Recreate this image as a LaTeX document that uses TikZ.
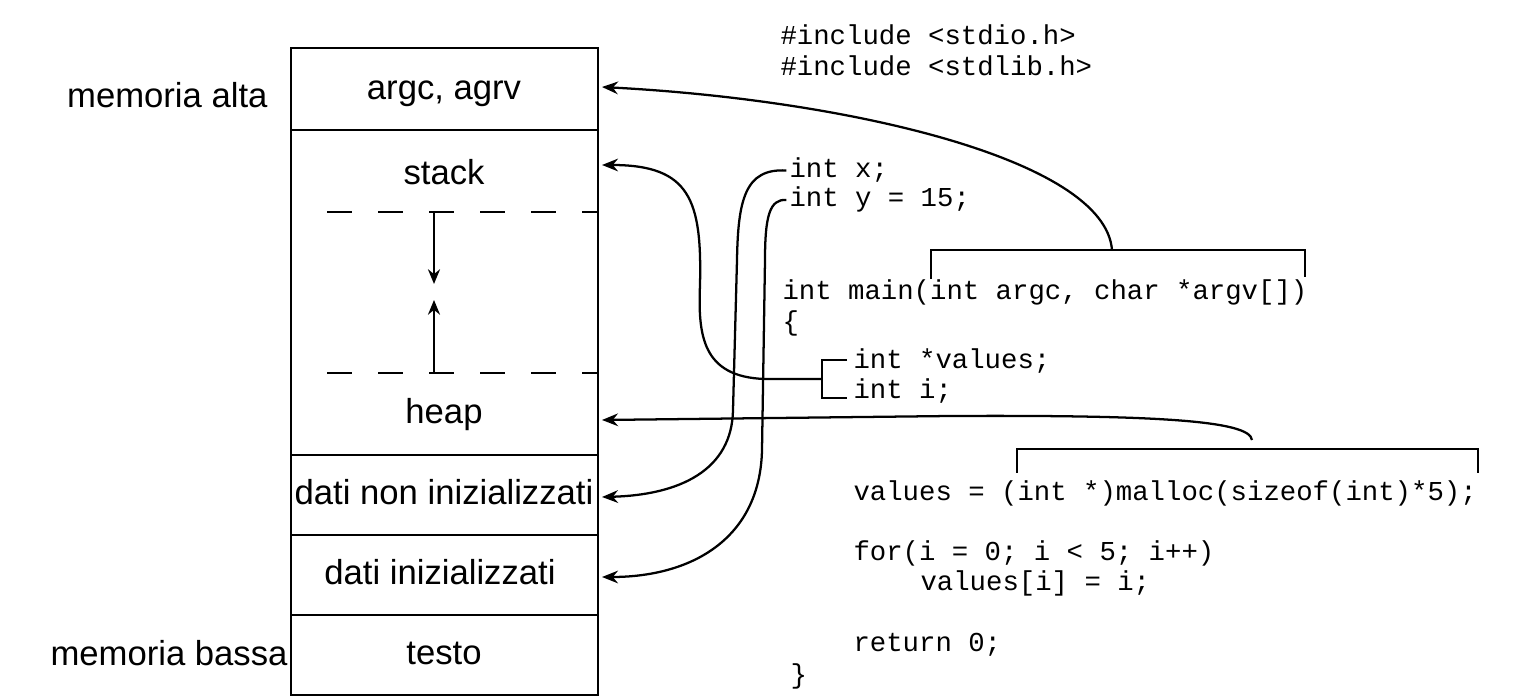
\documentclass[tikz,border=0pt]{standalone}
\usepackage{fontspec}
\setmainfont{Liberation Sans}
\setmonofont{Liberation Mono}
\usetikzlibrary{arrows.meta}
\newcommand\segfont{\fontsize{26}{30}\selectfont}
\newcommand\codefont{\ttfamily\fontsize{20.5}{25}\selectfont}
\tikzset{every picture/.style={line width=0.75pt}}

\begin{document}
\begin{tikzpicture}[x=0.75pt,y=0.75pt,yscale=-1,xscale=1,
  seg/.style={font=\segfont, anchor=base, inner sep=0pt},
  side/.style={font=\segfont, anchor=base east, inner sep=0pt},
  code/.style={font=\codefont, anchor=base west, inner sep=0pt},
  wall/.style={line width=1.9pt},
  freeline/.style={line width=1.9pt, dash pattern=on 18.75pt off 19.5pt},
  brk/.style={line width=1.7pt},
  ptr/.style={line width=1.7pt, -{Stealth[length=12pt,width=9.5pt]}},
  growarrow/.style={line width=1.7pt, -{Stealth[length=11pt,width=9pt]}}]
\useasboundingbox (0,0) rectangle (1536,698);

%Shape: Rectangle [memory]
\draw [wall] (291,48) rectangle (598,695);
%Straight Lines [segments]
\draw [wall] (291,130) -- (598,130);
\draw [wall] (291,455) -- (598,455);
\draw [wall] (291,535) -- (598,535);
\draw [wall] (291,615) -- (598,615);
%Straight Lines [free space]
\draw [freeline] (327,212) -- (598,212);
\draw [freeline] (327,373) -- (598,373);
\draw [growarrow] (434,212) -- (434,284);
\draw [growarrow] (434,373) -- (434,300);

% Text Node
\node [seg] (argc) at (444,100) {argc, agrv};
\node [seg] (stack) at (444,185) {stack};
\node [seg] (heap) at (444,424) {heap};
\node [seg] (bss) at (444,505) {dati non inizializzati};
\node [seg] (data) at (440,585) {dati inizializzati};
\node [seg] (text) at (444,664) {testo};
\node [side] (high) at (268,108) {memoria alta};
\node [side] (low) at (288,665) {memoria bassa};

% Text Node [program]
\node [code] (inc1) at (780,45) {\#include <stdio.h>};
\node [code] (inc2) at (780,76) {\#include <stdlib.h>};
\node [code] (intx) at (789,178) {int x;};
\node [code] (inty) at (789,207) {int y = 15;};
\node [code] (main) at (782,300) {int main(int argc, char *argv[])};
\node [code] (open) at (782,331) {\{};
\node [code] (vals) at (853,369) {int *values;};
\node [code] (inti) at (853,399) {int i;};
\node [code] (alloc) at (853,501) {values = (int *)malloc(sizeof(int)*5);};
\node [code] (loop) at (853,561) {for(i = 0; i < 5; i++)};
\node [code] (assign) at (920,590) {values[i] = i;};
\node [code] (ret) at (853,651) {return 0;};
\node [code] (close) at (790,683) {\}};

%Coordinates [arrow ends]
\coordinate (toargc) at (602,87);
\coordinate (tostack) at (602,165);
\coordinate (toheap) at (602,420);
\coordinate (tobss) at (602,497);
\coordinate (todata) at (602,577);
\coordinate (argvmid) at (1112,250);
\coordinate (locmid) at (822,379);
\coordinate (allocmid) at (1252,440);

%Straight Lines [brackets]
\draw [brk] (931,279) -- (931,250) -- (1305,250) -- (1305,277);
\draw [brk] (1017,473) -- (1017,449) -- (1478,449) -- (1478,473);
\draw [brk] (847,360) -- (822,360) -- (822,398) -- (847,398);

%Curve Lines
\draw [ptr] (argvmid) .. controls (1105,160) and (850,100) .. (toargc);
\draw [ptr] (locmid) -- (765,379) .. controls (702,377) and (698,335) .. (700,285) .. controls (702,200) and (690,165) .. (tostack);
\draw [ptr] ([xshift=-2pt]intx.west) .. controls (745,168) and (738,200) .. (737,260) -- (733,410) .. controls (732,470) and (680,495) .. (tobss);
\draw [ptr] ([xshift=-2pt]inty.west) .. controls (770,199) and (765,215) .. (765,260) -- (762,450) .. controls (760,540) and (690,577) .. (todata);
\draw [ptr] (allocmid) .. controls (1250,420) and (1150,415) .. (950,416) -- (toheap);

\end{tikzpicture}
\end{document}
